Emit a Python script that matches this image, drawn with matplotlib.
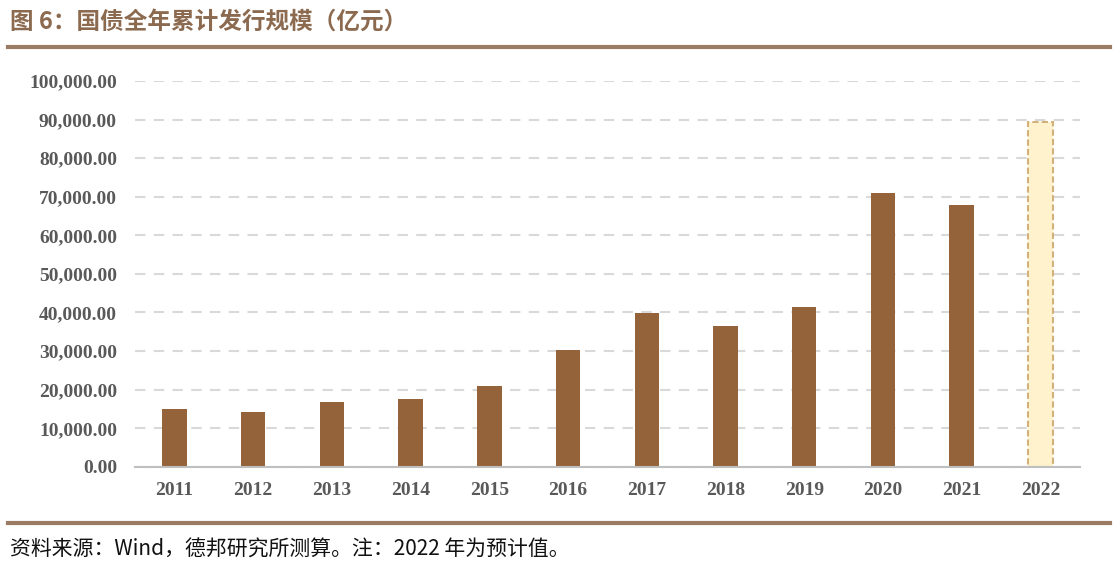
import matplotlib.pyplot as plt
from matplotlib.ticker import FuncFormatter

years = ['2011', '2012', '2013', '2014', '2015', '2016', '2017', '2018',
         '2019', '2020', '2021', '2022']
issuance = [15100, 14300, 16800, 17600, 20900, 30400, 39800, 36500,
            41500, 71000, 67800, 89400]
forecast_year = '2022'

plt.rcParams['font.family'] = ['Noto Sans CJK SC', 'DejaVu Sans']

fig = plt.figure(figsize=(11.18, 5.70), dpi=100)
ax = fig.add_axes([0.1208, 0.181, 0.845, 0.677])

actual_x = [i for i, y in enumerate(years) if y != forecast_year]
actual_v = [v for y, v in zip(years, issuance) if y != forecast_year]
fc_x = [i for i, y in enumerate(years) if y == forecast_year]
fc_v = [v for y, v in zip(years, issuance) if y == forecast_year]

ax.bar(actual_x, actual_v, width=0.31, color='#956339', zorder=3)
ax.bar(fc_x, fc_v, width=0.31, color='#FFF2CC', edgecolor='#D2B27A',
       linestyle=(0, (3, 1.5)), linewidth=1.5, zorder=3)

ax.set_xlim(-0.5, len(years) - 0.5)
ax.set_ylim(0, 100000)
ax.set_yticks(range(0, 100001, 10000))
ax.yaxis.set_major_formatter(FuncFormatter(lambda v, p: f'{v:,.2f}'))
ax.set_xticks(range(len(years)))
ax.set_xticklabels(years)

ax.grid(axis='y', color='#D9D9D9', linestyle=(0, (5, 4)), linewidth=1.5, zorder=0)
for s in ['top', 'right', 'left']:
    ax.spines[s].set_visible(False)
ax.spines['bottom'].set_color('#BFBFBF')
ax.spines['bottom'].set_linewidth(1.5)
ax.spines['bottom'].set_zorder(4)
ax.tick_params(length=0)
ax.tick_params(axis='y', pad=13)
ax.tick_params(axis='x', pad=11)
for lab in ax.get_yticklabels() + ax.get_xticklabels():
    lab.set_fontfamily('Liberation Serif')
    lab.set_fontweight('bold')
    lab.set_fontsize(14)
    lab.set_color('#595959')

fig.text(0.009, 0.962, '图 6：国债全年累计发行规模（亿元）', fontsize=17,
         fontweight='bold', color='#8B6A4F', va='center', ha='left')
fig.add_artist(plt.Line2D([0.007, 0.993], [0.917, 0.917], color='#9C7B64',
                          linewidth=3, transform=fig.transFigure))
fig.add_artist(plt.Line2D([0.007, 0.993], [0.082, 0.082], color='#9C7B64',
                          linewidth=3, transform=fig.transFigure))
fig.text(0.009, 0.035, '资料来源：Wind，德邦研究所测算。注：2022 年为预计值。',
         fontsize=15, color='#111111', va='center', ha='left')

fig.savefig('out.png', dpi=100)
